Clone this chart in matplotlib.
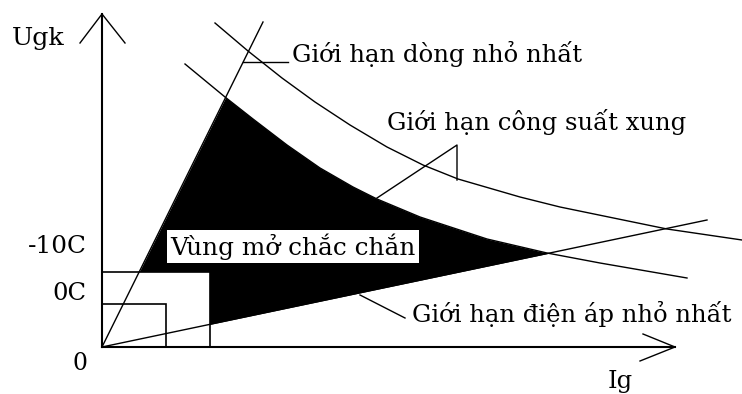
import numpy as np
import matplotlib
matplotlib.use("Agg")
import matplotlib.pyplot as plt
from matplotlib.patches import Rectangle

# ---- data (diagram units: Ig horizontal, Ugk vertical, origin at 0,0) ----
upper_ig = [113, 146, 180, 213, 248, 285, 321, 356, 418, 458, 565, 640]
upper_u = [324, 296, 269, 245, 222, 200, 182, 168, 150, 140, 118, 107]
lower_ig = [83, 123, 151, 185, 218, 251, 275, 318, 385, 445, 498, 585]
lower_u = [283, 250, 228, 202, 179, 160, 148, 130, 108, 94, 84, 69]
steep_ig = [0, 161]
steep_u = [0, 325]
shallow_ig = [0, 605]
shallow_u = [0, 127]
rect_small = (64, 43)
rect_large = (108, 75)

yaxis_ig = [0, 0]
yaxis_u = [0, 333]
xaxis_ig = [0, 573]
xaxis_u = [0, 0]
yarrow_ig = [-22, 0, 23]
yarrow_u = [304, 333, 304]
xarrow_ig = [541, 573, 538]
xarrow_u = [13, 0, -14]

lead_dong_ig = [141, 186]
lead_dong_u = [285, 285]
lead_cs_ig = [275, 355, 355]
lead_cs_u = [149, 202, 167]
lead_da_ig = [258, 303]
lead_da_u = [52, 29]

labels = ["Giới hạn dòng nhỏ nhất", "Giới hạn công suất xung",
          "Giới hạn điện áp nhỏ nhất", "Vùng mở chắc chắn"]
label_pos = [(190, 285), (285, 217), (310, 25), (68, 92)]
label_w = [293, 300, 320, 247]
ytick_labels = ["-10C", "0C", "0"]
ytick_pos = [(-15, 94), (-15, 47), (-15, -23)]
ytick_w = [59, 34, 15]
axis_labels = ["Ugk", "Ig"]
axis_pos = [(-90, 302), (506, -41)]
axis_w = [53, 25]

fig = plt.figure(figsize=(7.42, 3.94), dpi=100)
ax = fig.add_axes([0, 0, 1, 1])
ax.set_xlim(-102, 640)
ax.set_ylim(-47, 347)
ax.set_axis_off()

# safe triggering region (below both the steep line and the lower curve, above the shallow line)
X = np.linspace(0, 600, 3000)
st = steep_u[1] / steep_ig[1] * X
sh = shallow_u[1] / shallow_ig[1] * X
lo = np.interp(X, lower_ig, lower_u)
top = np.minimum(st, lo)
ax.fill_between(X, sh, top, where=top > sh, color="black", lw=0, zorder=1)

# rectangles
for w, h in [rect_large, rect_small]:
    ax.add_patch(Rectangle((0, 0), w, h, facecolor="white", edgecolor="black",
                           lw=1.2, zorder=2))

lw = 1.0
ax.plot(upper_ig, upper_u, color="black", lw=lw, zorder=3)
ax.plot(lower_ig, lower_u, color="black", lw=lw, zorder=3)
ax.plot(steep_ig, steep_u, color="black", lw=lw, zorder=3)
ax.plot(shallow_ig, shallow_u, color="black", lw=lw, zorder=3)
ax.plot(yaxis_ig, yaxis_u, color="black", lw=1.5, zorder=4)
ax.plot(xaxis_ig, xaxis_u, color="black", lw=1.5, zorder=4)
ax.plot(yarrow_ig, yarrow_u, color="black", lw=1.0, zorder=4)
ax.plot(xarrow_ig, xarrow_u, color="black", lw=1.0, zorder=4)
ax.plot(lead_dong_ig, lead_dong_u, color="black", lw=lw, zorder=3)
ax.plot(lead_cs_ig, lead_cs_u, color="black", lw=lw, zorder=3)
ax.plot(lead_da_ig, lead_da_u, color="black", lw=lw, zorder=3)

fam = ["DejaVu Serif"]
texts = []
for s, (x, y), w in zip(labels, label_pos, label_w):
    t = ax.text(x, y, s, ha="left", va="baseline", fontsize=14, family=fam, zorder=6)
    texts.append((t, w))
for s, (x, y), w in zip(ytick_labels, ytick_pos, ytick_w):
    t = ax.text(x, y, s, ha="right", va="baseline", fontsize=14, family=fam, zorder=6)
    texts.append((t, w))
for s, (x, y), w in zip(axis_labels, axis_pos, axis_w):
    t = ax.text(x, y, s, ha="left", va="baseline", fontsize=14, family=fam, zorder=6)
    texts.append((t, w))

fig.canvas.draw()
r = fig.canvas.get_renderer()
for t, w in texts:
    bb = t.get_window_extent(r)
    t.set_fontsize(t.get_fontsize() * w / bb.width)

# white box behind the region label
texts[3][0].set_bbox(dict(facecolor="white", edgecolor="none", pad=2.5))

fig.savefig("out.png", dpi=100)
